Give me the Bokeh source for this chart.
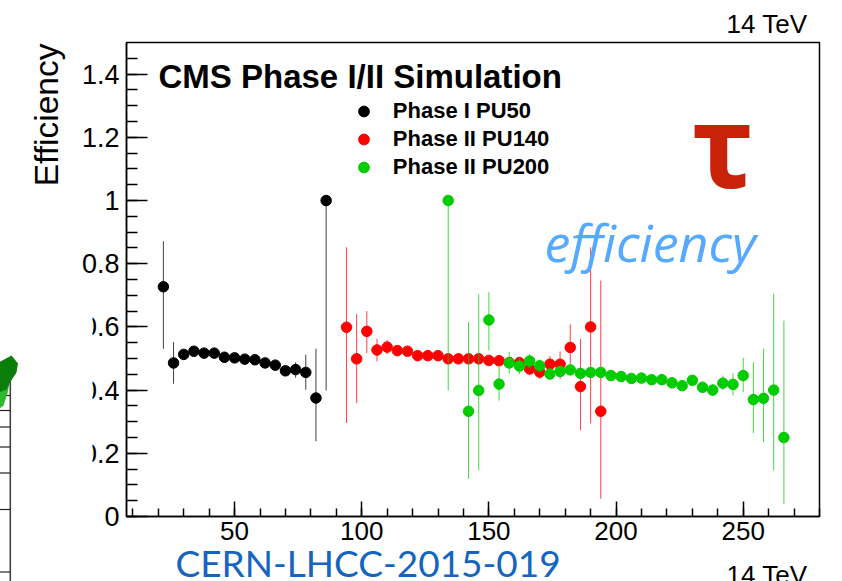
from math import pi

from bokeh.embed import file_html
from bokeh.models import (ColumnDataSource, CustomJSTickFormatter, Label, Legend, LegendItem,
                          LinearAxis, Range1d, SingleIntervalTicker)
from bokeh.plotting import figure
from bokeh.resources import INLINE

# ---------------------------------------------------------------- data
# tau pT bin centres (GeV), efficiency and asymmetric uncertainties

pu50_pt = [22, 26, 30, 34, 38, 42, 46, 50, 54, 58, 62, 66, 70, 74, 78, 82, 86]
pu50_eff = [0.727, 0.486, 0.513, 0.523, 0.517, 0.517, 0.504, 0.502, 0.498, 0.496,
            0.486, 0.479, 0.461, 0.465, 0.456, 0.375, 1.0]
pu50_up = [0.144, 0.066, 0.014, 0.014, 0.014, 0.014, 0.014, 0.014, 0.014, 0.014,
           0.014, 0.014, 0.014, 0.023, 0.056, 0.156, 0.0]
pu50_dn = [0.196, 0.066, 0.014, 0.014, 0.014, 0.014, 0.014, 0.014, 0.014, 0.014,
           0.014, 0.014, 0.014, 0.026, 0.055, 0.137, 0.601]

pu140_pt = [94, 98, 102, 106, 110, 114, 118, 122, 126, 130, 134, 138, 142, 146, 150,
            154, 158, 162, 166, 170, 174, 178, 182, 186, 190, 194]
pu140_eff = [0.599, 0.499, 0.586, 0.527, 0.536, 0.525, 0.523, 0.509, 0.509, 0.509,
             0.499, 0.499, 0.499, 0.499, 0.494, 0.493, 0.487, 0.487, 0.467, 0.457,
             0.482, 0.482, 0.535, 0.411, 0.600, 0.333]
pu140_up = [0.253, 0.142, 0.064, 0.035, 0.023, 0.014, 0.013, 0.012, 0.012, 0.012,
            0.012, 0.012, 0.013, 0.013, 0.014, 0.015, 0.016, 0.017, 0.020, 0.022,
            0.026, 0.040, 0.073, 0.151, 0.252, 0.414]
pu140_dn = [0.303, 0.140, 0.069, 0.036, 0.023, 0.014, 0.013, 0.012, 0.012, 0.012,
            0.012, 0.012, 0.013, 0.013, 0.014, 0.015, 0.016, 0.017, 0.020, 0.022,
            0.021, 0.047, 0.052, 0.138, 0.305, 0.277]

pu200_pt = [134, 142, 146, 150, 154, 158, 162, 166, 170, 174, 178, 182, 186, 190,
            194, 198, 202, 206, 210, 214, 218, 222, 226, 230, 234, 238, 242, 246,
            250, 254, 258, 262, 266]
pu200_eff = [1.0, 0.333, 0.399, 0.622, 0.419, 0.486, 0.476, 0.492, 0.477, 0.451,
             0.459, 0.464, 0.453, 0.456, 0.456, 0.446, 0.443, 0.437, 0.438, 0.433,
             0.433, 0.423, 0.414, 0.431, 0.409, 0.400, 0.422, 0.418, 0.446, 0.370,
             0.374, 0.400, 0.250]
pu200_up = [0.0, 0.282, 0.304, 0.088, 0.059, 0.034, 0.026, 0.022, 0.020, 0.018,
            0.017, 0.016, 0.015, 0.014, 0.014, 0.014, 0.014, 0.014, 0.014, 0.015,
            0.015, 0.016, 0.017, 0.017, 0.018, 0.019, 0.024, 0.035, 0.056, 0.118,
            0.157, 0.305, 0.370]
pu200_dn = [0.601, 0.214, 0.253, 0.097, 0.052, 0.034, 0.026, 0.022, 0.020, 0.018,
            0.017, 0.016, 0.015, 0.014, 0.014, 0.014, 0.014, 0.014, 0.014, 0.015,
            0.015, 0.016, 0.017, 0.017, 0.018, 0.019, 0.021, 0.035, 0.053, 0.106,
            0.139, 0.254, 0.210]

series = [
    ("Phase I PU50", pu50_pt, pu50_eff, pu50_up, pu50_dn, "#000000"),
    ("Phase II PU140", pu140_pt, pu140_eff, pu140_up, pu140_dn, "#ff0000"),
    ("Phase II PU200", pu200_pt, pu200_eff, pu200_up, pu200_dn, "#00cc00"),
]

# ---------------------------------------------------------------- geometry
# The whole canvas is the drawing area; the histogram frame sits inside it
# with fixed-location axes, so that texts around it are not clipped.
W, H = 842, 581
FL, FR, FT, FB = 126, 23, 42, 65          # pixel margins around the histogram frame
X_AXIS = (7.5, 280.0)                     # pT range of the frame
Y_AXIS = (0.0, 1.5)                       # efficiency range of the frame
FW, FH = W - FL - FR, H - FT - FB
XS = (X_AXIS[1] - X_AXIS[0]) / FW         # data units per pixel
YS = (Y_AXIS[1] - Y_AXIS[0]) / FH

def dx(px):
    """canvas pixel column -> pT"""
    return X_AXIS[0] + (px - FL) * XS

def dy(py):
    """canvas pixel row -> efficiency"""
    return Y_AXIS[0] + (FT + FH - py) * YS

SANS = "Liberation Sans"

p = figure(width=W, height=H, x_range=Range1d(dx(0), dx(W)), y_range=Range1d(dy(H), dy(0)),
           output_backend="svg", toolbar_location=None, title=None,
           x_axis_location=None, y_axis_location=None, min_border=0)
p.background_fill_color = "white"
p.border_fill_color = "white"
p.outline_line_color = None
p.xgrid.visible = False
p.ygrid.visible = False

# axes in ROOT style: ticks pointing into the frame
yaxis = LinearAxis(fixed_location=X_AXIS[0], bounds=Y_AXIS,
                   ticker=SingleIntervalTicker(interval=0.2, num_minor_ticks=4),
                   formatter=CustomJSTickFormatter(code="return Number(tick.toFixed(2)).toString();"),
                   major_tick_in=21, minor_tick_in=11, major_label_text_font_size="27px",
                   major_label_standoff=7)
xaxis = LinearAxis(fixed_location=Y_AXIS[0], bounds=X_AXIS,
                   ticker=SingleIntervalTicker(interval=50, num_minor_ticks=5),
                   major_tick_in=15, minor_tick_in=8, major_label_text_font_size="26px",
                   major_label_standoff=5)
for ax in (xaxis, yaxis):
    ax.axis_line_width = 1.5
    ax.major_tick_out = 0
    ax.minor_tick_out = 0
    ax.major_tick_line_width = 1.5
    ax.minor_tick_line_width = 1.5
    ax.major_label_text_font = SANS
    ax.major_label_text_color = "black"
p.add_layout(yaxis, "left")
p.add_layout(xaxis, "below")

# frame box
p.quad(left=X_AXIS[0], right=X_AXIS[1], bottom=Y_AXIS[0], top=Y_AXIS[1],
       fill_color=None, line_color="black", line_width=1.5)

# error bars first, then markers of each sample
marker_renderers = []
for name, pt, eff, up, dn, col in series:
    src = ColumnDataSource(dict(
        x=pt, y=eff,
        hi=[e + u for e, u in zip(eff, up)],
        lo=[e - d for e, d in zip(eff, dn)],
    ))
    p.segment(x0="x", y0="lo", x1="x", y1="hi", source=src,
              line_color=col, line_width=1, line_alpha=0.75)
    r = p.scatter("x", "y", source=src, size=10.5, marker="circle",
                  fill_color=col, line_color=col)
    marker_renderers.append((name, r))

legend = Legend(
    items=[LegendItem(label=n, renderers=[r]) for n, r in marker_renderers],
    location=(349.8, 399.7), orientation="vertical",
    glyph_width=27, glyph_height=28, label_height=28, spacing=0, padding=0, margin=0,
    label_standoff=16, label_text_font=SANS, label_text_font_style="bold",
    label_text_font_size="22px", label_text_color="black",
    border_line_alpha=0, background_fill_alpha=0,
)
p.add_layout(legend)

def text(px, py, s, size, font=SANS, style="normal", color="black", align="left", angle=0.0):
    """place a text whose vertical middle is at canvas pixel (px, py)"""
    p.add_layout(Label(x=dx(px), y=dy(py), text=s, text_font=font, text_font_style=style,
                       text_font_size=f"{size}px", text_color=color, text_align=align,
                       text_baseline="middle", angle=angle))

text(158, 75.5, "CMS Phase I/II Simulation", 33, style="bold")
text(45.5, 43, "Efficiency", 33.5, align="right", angle=pi / 2)
text(807, 23.5, "14 TeV", 26, align="right")
text(722.5, 143, "\u03c4", 114, font="Noto Sans", style="bold", color="#c8220a", align="center")
text(544, 241, "efficiency", 52, font="Open Sans", style="italic", color="#55aaff")

# neighbouring panel at the left edge: its white pad hides the label digits
p.quad(left=dx(-5), right=dx(92), top=dy(296), bottom=dy(590),
       fill_color="white", line_color=None, level="overlay")
p.segment(x0=dx(9.8), y0=dy(358), x1=dx(9.8), y1=dy(590),
          line_color="#444444", line_width=1.6, level="overlay")
tick_rows = [395, 410, 426.5, 446.5, 472.5, 509, 571.5]
p.segment(x0=[dx(-2)] * len(tick_rows), y0=[dy(t) for t in tick_rows],
          x1=[dx(9.8)] * len(tick_rows), y1=[dy(t) for t in tick_rows],
          line_color="#222222", line_width=1.2, level="overlay")
p.patch(x=[dx(v) for v in [-2, 6, 9, 7, 3, -2]],
        y=[dy(v) for v in [380, 374, 382, 393, 405, 409]],
        fill_color="#2eb82e", line_color=None, level="overlay")
p.patch(x=[dx(v) for v in [-2, 11, 17.5, 16, 10, 6, -2]],
        y=[dy(v) for v in [362, 355, 363, 372, 381, 389, 392]],
        fill_color="#0b7d0b", line_color=None, level="overlay")

# report reference and energy under the frame
text(175, 561.7, "CERN-LHCC-2015-019", 37, font="Lato", color="#1565c0")
text(807, 574.5, "14 TeV", 26, align="right")

open("out.html", "w").write(file_html(p, INLINE))
